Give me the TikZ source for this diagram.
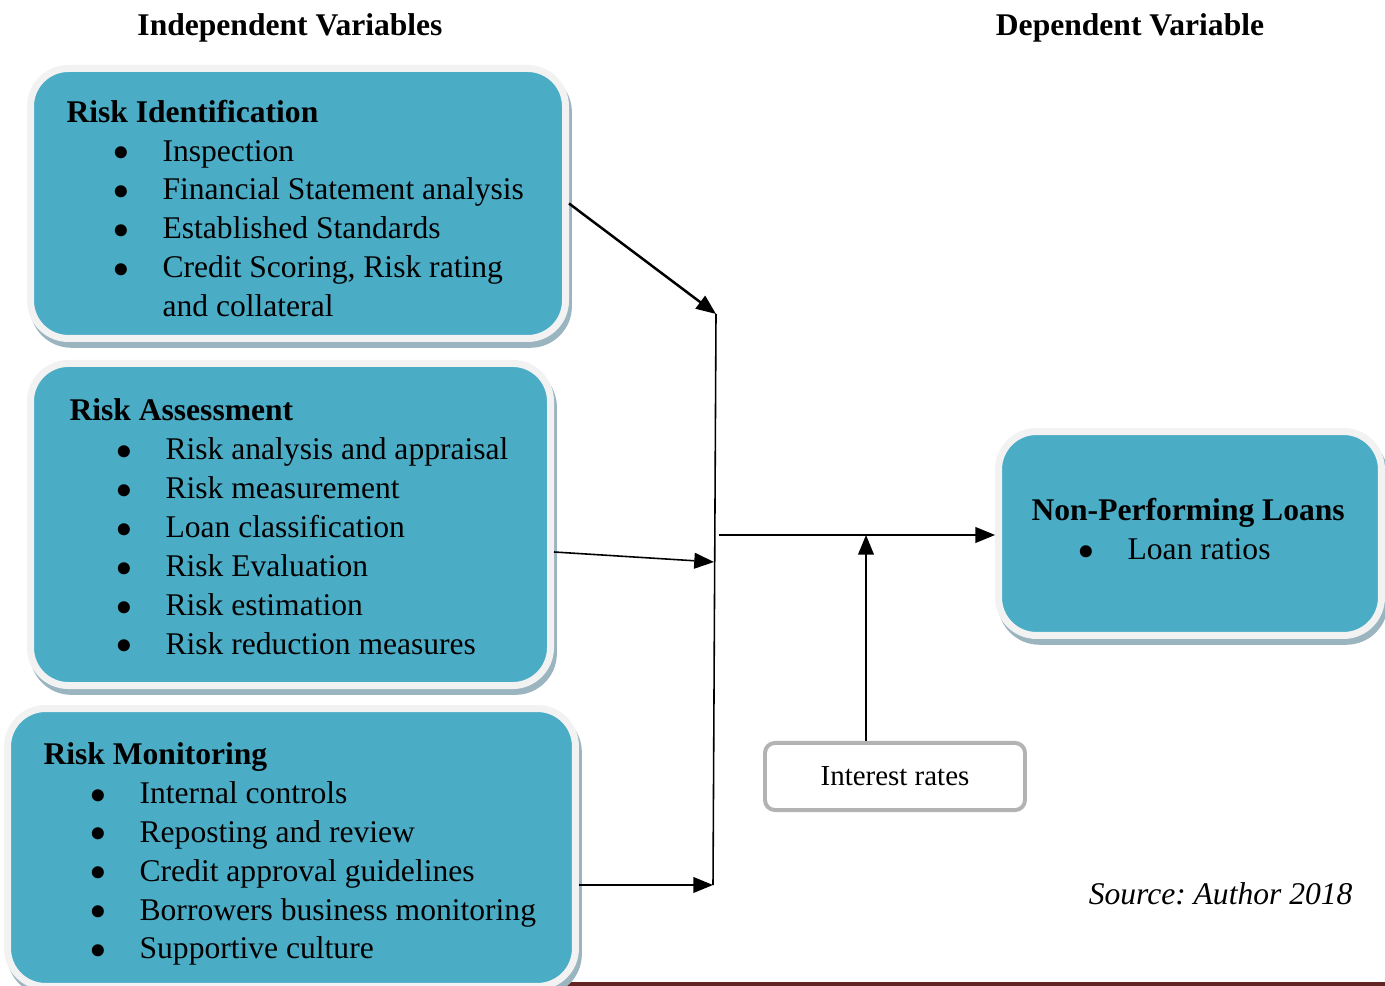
\documentclass[tikz,border=0pt]{standalone}
\usepackage{fontspec}
\setmainfont{Liberation Serif}
\usetikzlibrary{arrows.meta,calc,shadows}
\definecolor{aqua}{HTML}{4BACC6}
\definecolor{rim}{HTML}{F2F2F2}
\definecolor{shadowblue}{HTML}{9AB4C0}
\definecolor{rategray}{HTML}{B3B3B3}
\definecolor{barred}{HTML}{632523}
\newcommand\itm[1]{\hspace*{17.6pt}\makebox[18.9pt][l]{\smash{\raisebox{-0.28em}{\scalebox{1.6}{\textbullet}}}}#1}
\tikzset{
  riskbox/.style={fill=aqua, draw=rim, line width=2.66pt, rounded corners=14.4pt,
    drop shadow={fill=shadowblue, draw=shadowblue, line width=2.66pt, opacity=1,
      shadow xshift=1.1pt, shadow yshift=-2.2pt}},
  boxtext/.style={anchor=west, inner sep=0pt, align=left, font=\fontsize{12}{14.8}\selectfont},
  ratebox/.style={fill=white, draw=rategray, line width=1.5pt, rounded corners=3.8pt,
    minimum width=98.8pt, minimum height=25.5pt, font=\fontsize{11}{13}\selectfont},
  link/.style={-{Triangle[length=7.5pt,width=6pt]}, line width=0.6pt},
}
\begin{document}
\begin{tikzpicture}[x=0.38pt, y=-0.38pt, line join=round]
\useasboundingbox (0,0) rectangle (1385,986);
\fill[barred] (558,982) rectangle (1385,987);
% headings
\node[font=\bfseries\fontsize{12}{14.8}\selectfont] (indep) at (290,28) {Independent Variables};
\node[font=\bfseries\fontsize{12}{14.8}\selectfont] (dep) at (1130,28) {Dependent Variable};
% independent variables
\node[riskbox, minimum width=203.3pt, minimum height=102.6pt] (ident) at (298,203.5) {};
\node[boxtext] (identtxt) at ($(ident.west)+(39,5)$) {\textbf{Risk Identification}\\
  \itm{Inspection}\\ \itm{Financial Statement analysis}\\ \itm{Established Standards}\\
  \itm{Credit Scoring, Risk rating}\\ \hspace*{36.5pt}and collateral};
\node[riskbox, minimum width=197.6pt, minimum height=122.4pt] (assess) at (290.5,524.5) {};
\node[boxtext] (assesstxt) at ($(assess.west)+(42,2)$) {\textbf{Risk Assessment}\\
  \itm{Risk analysis and appraisal}\\ \itm{Risk measurement}\\ \itm{Loan classification}\\
  \itm{Risk Evaluation}\\ \itm{Risk estimation}\\ \itm{Risk reduction measures}};
\node[riskbox, minimum width=215.8pt, minimum height=105.6pt] (monitor) at (291.5,847.5) {};
\node[boxtext] (monitortxt) at ($(monitor.west)+(39,6.5)$) {\textbf{Risk Monitoring}\\
  \itm{Internal controls}\\ \itm{Reposting and review}\\ \itm{Credit approval guidelines}\\
  \itm{Borrowers business monitoring}\\ \itm{Supportive culture}};
% dependent variable
\node[riskbox, minimum width=145.5pt, minimum height=77.5pt] (npl) at (1190,533.5) {};
\node[boxtext] (npltxt) at ($(npl.west)+(36,-4.5)$) {\textbf{Non-Performing Loans}\\ \itm{Loan ratios}};
% moderating variable
\node[ratebox] (rate) at (895,776.5) {Interest rates};
% connectors
\coordinate (jtop) at (716,314);
\coordinate (jmid) at (714,562);
\coordinate (jbot) at (713,885);
\coordinate (jout) at (719,535);
\coordinate (rtop) at ($(rate.north)+(-29,0)$);
\draw[link, line width=0.95pt] (ident.east) -- (jtop);
\draw[link] ($(assess.east)+(0,27.5)$) -- (jmid);
\draw[link] ($(monitor.east)+(0,37.5)$) -- (jbot);
\draw[line width=0.6pt] (jtop) -- (jbot);
\draw[link] (jout) -- (jout -| npl.west);
\draw[link] (rtop) -- (rtop |- jout);
\node[anchor=east, inner sep=0pt, font=\itshape\fontsize{12}{14.8}\selectfont] (src) at (1353,894) {Source:\ Author 2018};
\end{tikzpicture}
\end{document}
